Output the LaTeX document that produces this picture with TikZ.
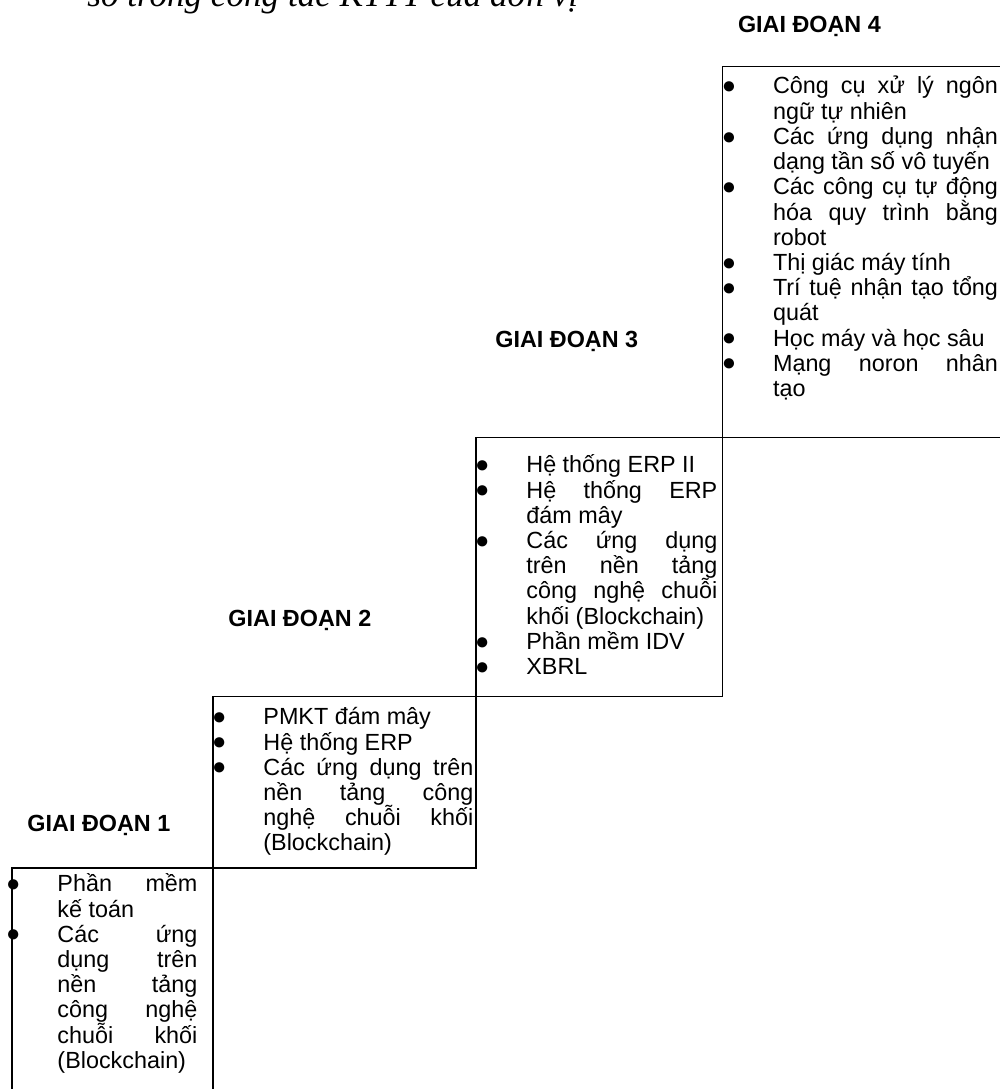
\documentclass[tikz,border=0pt]{standalone}
\usepackage{fontspec}
\setmainfont{Liberation Sans}
\newfontfamily\captionfont{Liberation Serif}
\usetikzlibrary{positioning, calc}

\hyphenpenalty=10000
\exhyphenpenalty=10000
\tolerance=9999

\newcommand{\stagebullet}{{\fontsize{13.5}{13.5}\selectfont\hspace*{-1.3pt}\raisebox{0.2pt}{●}}}
\newcommand{\stageitem}[1]{\par\noindent\hangindent=0.98cm\hangafter=1\makebox[0.98cm][l]{\stagebullet}#1\par}
\newcommand{\firstline}{\vrule width 0pt height 20pt\relax}

\begin{document}
\begin{tikzpicture}[x=0.02cm, y=-0.02cm,
	stagebox/.style={rectangle, draw, line width=0.8pt, outer sep=0pt, inner sep=0pt},
	stagetext/.style={anchor=north west, inner sep=0pt, align=justify, font=\fontsize{13.3}{14.35}\selectfont},
	stagehead/.style={anchor=base west, inner sep=0pt, font=\fontsize{13.3}{14.35}\selectfont\bfseries}
	]
	\useasboundingbox (0,0) rectangle (1000,1089);
	
	\node[anchor=base west, inner sep=0pt, font=\fontsize{20}{24}\captionfont\itshape] (caption) at (87,6) {số trong công tác KTTT của đơn vị};
	
	\node[stagebox, minimum width=6cm, minimum height=7.42cm, anchor=north west] (b4) at (722.7,66.7) {};
	\node[stagebox, minimum width=4.934cm, minimum height=5.18cm, anchor=north east] (b3) at (b4.south west) {};
	\node[stagebox, minimum width=5.26cm, minimum height=3.426cm, anchor=north east] (b2) at (b3.south west) {};
	\node[stagebox, minimum width=4.02cm, minimum height=5.04cm, anchor=north east] (b1) at (b2.south west) {};
	
	\node[stagehead] (h4) at ([shift={(15,-34)}]b4.north west) {GIAI ĐOẠN 4};
	\node[stagehead] (h3) at ([shift={(19,-89.7)}]b3.north west) {GIAI ĐOẠN 3};
	\node[stagehead] (h2) at ([shift={(15,-69.7)}]b2.north west) {GIAI ĐOẠN 2};
	\node[stagehead] (h1) at ([shift={(15,-36)}]b1.north west) {GIAI ĐOẠN 1};
	
	\node[stagetext, text width=5.48cm] (t4) at ([shift={(1,-10)}]b4.north west) {%
		\stageitem{\firstline Công cụ xử lý ngôn\linebreak ngữ tự nhiên}
		\stageitem{Các ứng dụng nhận\linebreak dạng tần số vô tuyến}
		\stageitem{Các công cụ tự động\linebreak hóa quy trình bằng\linebreak robot}
		\stageitem{Thị giác máy tính}
		\stageitem{Trí tuệ nhận tạo tổng\linebreak quát}
		\stageitem{Học máy và học sâu}
		\stageitem{Mạng noron nhân\linebreak tạo}};
	\node[stagetext, text width=4.8cm] (t3) at ([shift={(1,-2)}]b3.north west) {%
		\stageitem{\firstline Hệ thống ERP II}
		\stageitem{Hệ thống ERP\linebreak đám mây}
		\stageitem{Các ứng dụng\linebreak trên nền tảng\linebreak công nghệ chuỗi\linebreak khối (Blockchain)}
		\stageitem{Phần mềm IDV}
		\stageitem{XBRL}};
	\node[stagetext, text width=5.18cm] (t2) at ([shift={(1,-9)}]b2.north west) {%
		\stageitem{\firstline PMKT đám mây}
		\stageitem{Hệ thống ERP}
		\stageitem{Các ứng dụng trên\linebreak nền tảng công\linebreak nghệ chuỗi khối\linebreak (Blockchain)}};
	\node[stagetext, text width=3.78cm] (t1) at ([shift={(-4,-13.3)}]b1.north west) {%
		\stageitem{\firstline Phần mềm\linebreak kế toán}
		\stageitem{Các ứng\linebreak dụng trên\linebreak nền tảng\linebreak công nghệ\linebreak chuỗi khối\linebreak (Blockchain)}};
\end{tikzpicture}
\end{document}
